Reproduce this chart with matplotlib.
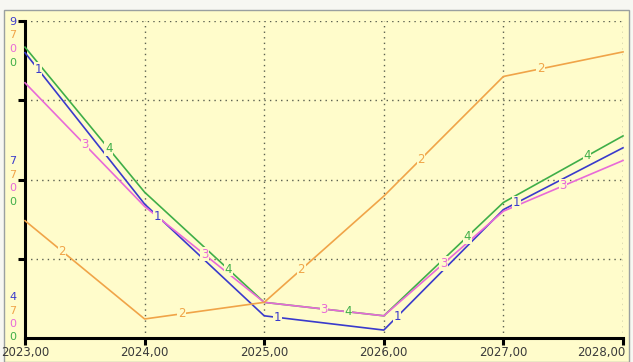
import matplotlib
matplotlib.use("Agg")
import matplotlib.pyplot as plt
from matplotlib.patches import Rectangle
import numpy as np

# Simulation output, plotted on a shared 0..4 grid scale
years = [2023, 2024, 2025, 2026, 2027, 2028]
series_1 = [3.60, 1.69, 0.28, 0.10, 1.62, 2.40]
series_2 = [1.48, 0.24, 0.45, 1.79, 3.30, 3.61]
series_3 = [3.22, 1.66, 0.45, 0.28, 1.60, 2.24]
series_4 = [3.67, 1.84, 0.45, 0.28, 1.71, 2.55]

x_tick_labels = ["2023,00", "2024,00", "2025,00", "2026,00", "2027,00", "2028,00"]
top_labels = ["9", "7", "0", "0"]
mid_labels = ["7", "7", "0", "0"]
bottom_labels = ["4", "7", "0", "0"]

colors = {"1": "#3a3acc", "2": "#f0a448", "3": "#e86ad8", "4": "#3fae48"}
BG = "#fffccb"

W, H = 633, 362
fig = plt.figure(figsize=(W / 100, H / 100), dpi=100)
fig.patch.set_facecolor("#f7f7f2")

# yellow panel with thin grey frame
fig.patches.append(Rectangle((4 / W, 0), 625 / W, (H - 10) / H, transform=fig.transFigure,
                             facecolor=BG, edgecolor="#9aa0a0", linewidth=1.0, zorder=-5))

x0, x1, ytop, ybot = 25, 623, 21, 338
ax = fig.add_axes([x0 / W, (H - ybot) / H, (x1 - x0) / W, (ybot - ytop) / H])
ax.set_facecolor(BG)
ax.patch.set_alpha(0)
ax.set_xlim(2023, 2028)
ax.set_ylim(0, 4)

for s in ["top", "right"]:
    ax.spines[s].set_visible(False)
for s in ["left", "bottom"]:
    ax.spines[s].set_linewidth(2.2)
    ax.spines[s].set_color("black")

ax.set_yticks([1, 2, 3, 4])
ax.set_yticklabels([])
ax.set_xticks(years)
ax.set_xticklabels([])
ax.tick_params(axis="both", direction="out", length=5, width=2.2, color="black")

grid_kw = dict(color="#5b6050", linewidth=1.0, linestyle=(0, (1, 3)), zorder=1)
for yv in [1, 2, 3, 4]:
    ax.axhline(yv, **grid_kw)
for xv in years[1:]:
    ax.axvline(xv, **grid_kw)

series = [("4", series_4), ("1", series_1), ("3", series_3), ("2", series_2)]
for name, vals in series:
    ax.plot(years, vals, color=colors[name], linewidth=1.2, zorder=3, clip_on=False)

# numbered markers placed along each line at regular spacing
start_x = {"1": 2023.11, "2": 2023.31, "3": 2023.5, "4": 2023.7}
for name, vals in series:
    for k in range(5):
        xv = start_x[name] + k
        if xv > 2028:
            continue
        yv = np.interp(xv, years, vals)
        ax.text(xv, yv, name, color=colors[name], fontsize=8.5, ha="center", va="center",
                zorder=4, bbox=dict(boxstyle="square,pad=0.05", facecolor=BG, edgecolor="none"))

# x tick labels
for i, (xv, lab) in enumerate(zip(years, x_tick_labels)):
    last = i == len(years) - 1
    ax.text(xv + (0.02 if last else 0), -8 / (ybot - ytop), lab,
            transform=ax.get_xaxis_transform(), color="#3a3a3a",
            fontsize=8.5, ha="right" if last else "center", va="top", clip_on=False)

# per-series scale labels on the left
label_colors = [colors["1"], colors["2"], colors["3"], colors["4"]]
def label_group(labels, y_first):
    for j, (lab, c) in enumerate(zip(labels, label_colors)):
        y = y_first + j * 13.5
        fig.text(12.5 / W, 1 - y / H, lab, color=c, fontsize=8, ha="center", va="center")

label_group(top_labels, 22)
label_group(mid_labels, 161)
label_group(bottom_labels, 297)

fig.savefig("out.png", dpi=100, facecolor=fig.get_facecolor())
